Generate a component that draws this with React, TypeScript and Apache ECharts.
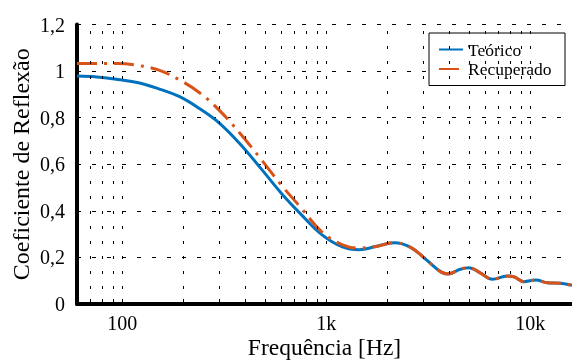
import React, { useEffect, useRef } from "react";
import * as echarts from "echarts";

// Teórico (blue)
const freqTeorico = [60, 75, 95, 120, 150, 190, 240, 300, 380, 480, 600, 750, 950, 1200, 1450, 1750, 2150, 2590, 3127, 3626, 3940, 4532, 5000, 5676, 6515, 7715, 8300, 9300, 10646, 12110, 14080, 16000];
const valTeorico = [0.979, 0.975, 0.964, 0.95, 0.925, 0.891, 0.838, 0.776, 0.685, 0.58, 0.477, 0.386, 0.298, 0.245, 0.233, 0.247, 0.263, 0.243, 0.186, 0.139, 0.129, 0.149, 0.156, 0.134, 0.106, 0.12, 0.117, 0.096, 0.103, 0.091, 0.089, 0.08];

// Recuperado (orange)
const freqRecuperado = [60, 75, 95, 120, 150, 190, 240, 300, 380, 480, 600, 750, 950, 1200, 1450, 1750, 2150, 2590, 3127, 3626, 3940, 4532, 5000, 5676, 6515, 7715, 8300, 9300, 10646, 12110, 14080, 16000];
const valRecuperado = [1.033, 1.033, 1.033, 1.024, 1.005, 0.963, 0.906, 0.83, 0.73, 0.62, 0.512, 0.414, 0.31, 0.254, 0.24, 0.247, 0.263, 0.243, 0.186, 0.139, 0.129, 0.149, 0.156, 0.134, 0.106, 0.12, 0.117, 0.096, 0.103, 0.091, 0.089, 0.08];

const xTickLabels: Record<number, string> = { 100: "100", 1000: "1k", 10000: "10k" };
const gridFreqs = [70, 80, 90, 100, 200, 300, 400, 500, 600, 700, 800, 900, 1000, 2000, 3000, 4000, 5000, 6000, 7000, 8000, 9000, 10000];

const FONT = "'Liberation Serif', 'Times New Roman', Times, serif";

export default function App() {
  const ref = useRef<HTMLDivElement>(null);
  useEffect(() => {
    if (!ref.current) return;
    const chart = echarts.init(ref.current, undefined, { renderer: "svg" });
    const zip = (f: number[], v: number[]) => f.map((x, i) => [x, v[i]]);
    chart.setOption({
      animation: false,
      textStyle: { fontFamily: FONT },
      grid: { left: 77, right: 0, top: 24.5, bottom: 56, containLabel: false, outerBoundsMode: "none" },
      legend: {
        data: ["Teórico", "Recuperado"],
        orient: "vertical",
        left: 429,
        top: 33,
        padding: [7, 13, 7, 9],
        itemWidth: 24,
        itemHeight: 19,
        itemGap: 0.5,
        backgroundColor: "#fff",
        borderColor: "#000",
        borderWidth: 1,
        borderRadius: 0,
        itemStyle: { opacity: 0 },
        textStyle: { fontFamily: FONT, fontSize: 17.5, color: "#000", lineHeight: 19, width: 84, overflow: "none" },
      },
      xAxis: {
        type: "log",
        logBase: 10,
        min: 60,
        max: 16000,
        name: "Frequência [Hz]",
        nameLocation: "middle",
        nameGap: 31,
        nameMoveOverlap: false,
        nameTextStyle: { fontFamily: FONT, fontSize: 23.5, color: "#000", lineHeight: 24 },
        axisLine: { show: true, onZero: false, lineStyle: { color: "#000", width: 4 } },
        axisTick: { show: false },
        axisLabel: {
          fontFamily: FONT,
          fontSize: 20,
          color: "#000",
          margin: 9,
          formatter: (v: number) => xTickLabels[Math.round(v)] ?? "",
        },
        splitLine: { show: false },
      },
      yAxis: {
        type: "value",
        min: 0,
        max: 1.2,
        interval: 0.2,
        name: "Coeficiente de Reflexão",
        nameLocation: "middle",
        nameGap: 44,
        nameRotate: 90,
        nameMoveOverlap: false,
        nameTextStyle: { fontFamily: FONT, fontSize: 24, color: "#000" },
        axisLine: { show: true, lineStyle: { color: "#000", width: 4 } },
        axisTick: { show: false },
        axisLabel: {
          fontFamily: FONT,
          fontSize: 20,
          color: "#000",
          margin: 12,
          formatter: (v: number) => String(parseFloat(v.toFixed(1))).replace(".", ","),
        },
        splitLine: { show: true, lineStyle: { color: "#000", width: 1, type: [4, 11] } },
      },
      series: [
        {
          name: "gridlines",
          type: "line",
          data: [],
          z: 1,
          silent: true,
          markLine: {
            silent: true,
            symbol: "none",
            label: { show: false },
            animation: false,
            lineStyle: { color: "#000", width: 1, type: [3, 12] },
            data: gridFreqs.map((f) => ({ xAxis: f })),
          },
        },
        {
          name: "ticks",
          type: "line",
          data: [],
          z: 1,
          silent: true,
          markLine: {
            silent: true,
            symbol: "none",
            label: { show: false },
            animation: false,
            lineStyle: { color: "#000", width: 1, type: "solid" },
            data: gridFreqs.map((f) => [{ coord: [f, 0] }, { coord: [f, 0.022] }]),
          },
        },
        {
          name: "Teórico",
          type: "line",
          data: zip(freqTeorico, valTeorico),
          symbol: "none",
          smooth: 0.4,
          z: 3,
          itemStyle: { color: "#0072BD" },
          lineStyle: { color: "#0072BD", width: 3 },
        },
        {
          name: "Recuperado",
          type: "line",
          data: zip(freqRecuperado, valRecuperado),
          symbol: "none",
          smooth: 0.4,
          z: 4,
          itemStyle: { color: "#D95319" },
          lineStyle: { color: "#D95319", width: 3, type: [20, 7, 3, 7] },
        },
      ],
    });
    return () => chart.dispose();
  }, []);
  return <div ref={ref} style={{ position: "fixed", left: 0, top: 0, width: 572, height: 360 }} />;
}
